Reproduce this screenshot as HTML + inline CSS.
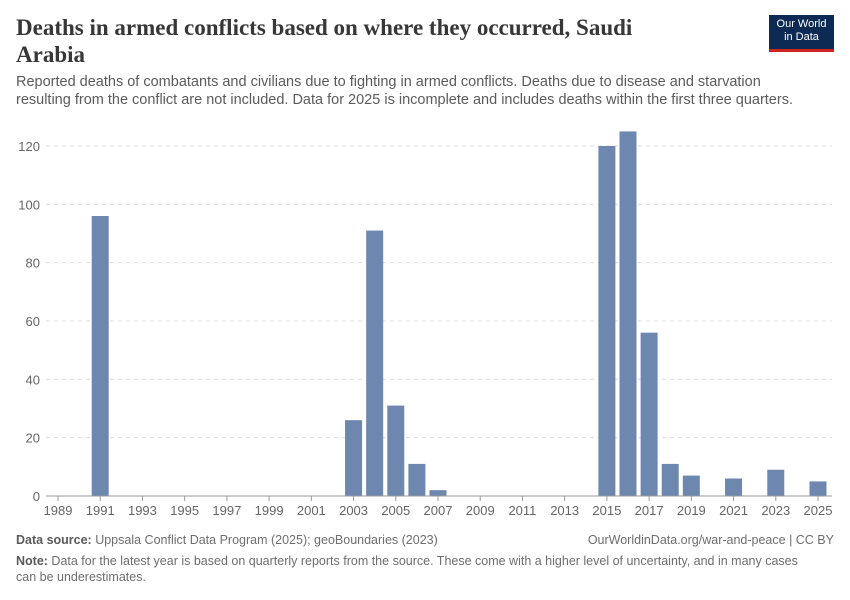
<!DOCTYPE html>
<html><head><meta charset="utf-8"><style>
body{margin:0;background:#fff;font-family:"Liberation Sans",sans-serif;}
#wrap{position:relative;width:850px;height:600px;overflow:hidden;}
.t{position:absolute;margin:0;}
</style></head><body>
<div id="wrap">
<h1 class="t" style="left:16px;top:14px;width:640px;font-family:'Liberation Serif',serif;font-size:23px;line-height:27px;font-weight:bold;color:#373737;">Deaths in armed conflicts based on where they occurred, Saudi Arabia</h1>
<div class="t" style="left:769px;top:15px;width:65px;height:37px;background:#0d2a54;border-bottom:3px solid #ce261e;color:#fff;font-size:11px;line-height:13px;text-align:center;padding-top:3px;box-sizing:border-box;">Our World<br>in Data</div>
<p class="t" style="left:16px;top:73px;width:790px;font-size:14.5px;line-height:18px;color:#5b5b5b;">Reported deaths of combatants and civilians due to fighting in armed conflicts. Deaths due to disease and starvation resulting from the conflict are not included. Data for 2025 is incomplete and includes deaths within the first three quarters.</p>
<svg id="chart" width="850" height="600" style="position:absolute;left:0;top:0;"></svg>
<div class="t" style="left:16px;top:533px;font-size:12.5px;color:#6e6e6e;"><b style="color:#5b5b5b">Data source:</b> Uppsala Conflict Data Program (2025); geoBoundaries (2023)</div>
<div class="t" style="right:16px;top:533px;font-size:12.5px;color:#6e6e6e;">OurWorldinData.org/war-and-peace | CC BY</div>
<div class="t" style="left:16px;top:553px;width:800px;font-size:12.5px;line-height:16px;color:#6e6e6e;"><b style="color:#5b5b5b">Note:</b> Data for the latest year is based on quarterly reports from the source. These come with a higher level of uncertainty, and in many cases can be underestimates.</div>
</div>
<script>
const years=[1991,2003,2004,2005,2006,2007,2015,2016,2017,2018,2019,2021,2023,2025];
const deaths=[96,26,91,31,11,2,120,125,56,11,7,6,9,5];
const yTicks=[0,20,40,60,80,100,120];
const xTicks=[1989,1991,1993,1995,1997,1999,2001,2003,2005,2007,2009,2011,2013,2015,2017,2019,2021,2023,2025];
const NS="http://www.w3.org/2000/svg";
const svg=document.getElementById('chart');
const x=y=>58+(y-1989)*(760/36);
const yS=v=>496-v*(350/120);
function mk(t,a){const e=document.createElementNS(NS,t);for(const k in a)e.setAttribute(k,a[k]);svg.appendChild(e);return e;}
yTicks.forEach(v=>{
  if(v>0){const l=mk('line',{x1:46,x2:832,y1:yS(v),y2:yS(v),stroke:'#ddd','stroke-dasharray':'4,4'});
  
  }
  const t=mk('text',{x:40,y:yS(v)+5,'text-anchor':'end','font-size':13,fill:'#666','font-family':'Liberation Sans'});
  t.textContent=v;
  
  
});
years.forEach((yr,i)=>{
  const r=mk('rect',{x:x(yr)-8.5,y:yS(deaths[i]),width:17,height:496-yS(deaths[i]),fill:'#6d87af'});
  
  
});
const ax=mk('line',{x1:46,x2:832,y1:496,y2:496,stroke:'#999'});


xTicks.forEach(yr=>{
  const tk=mk('line',{x1:x(yr),x2:x(yr),y1:496,y2:501,stroke:'#999'});
  
  
  const t=mk('text',{x:x(yr),y:515,'text-anchor':'middle','font-size':13,fill:'#666','font-family':'Liberation Sans'});
  t.textContent=yr;
  
  
});
</script>
</body></html>
